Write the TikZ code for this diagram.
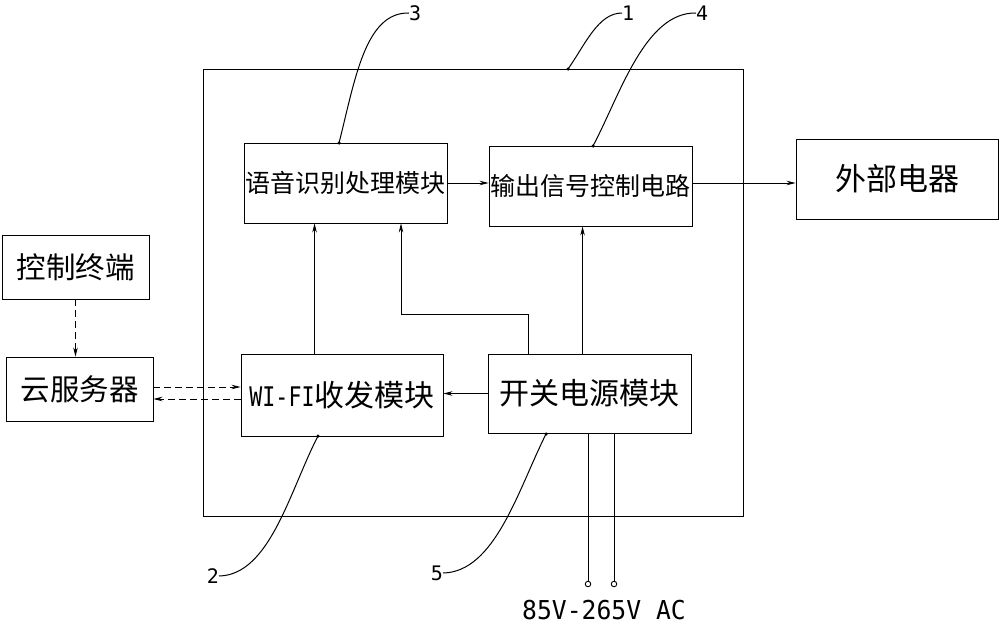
\documentclass[tikz,border=0pt]{standalone}
\usepackage{fontspec}
\usepackage{graphicx}
\usetikzlibrary{arrows.meta,calc}
\newfontfamily\cjk{Noto Sans CJK SC}
\newfontfamily\cad{DejaVu Sans Mono}
\tikzset{
  blk/.style={draw, line width=0.9pt, inner sep=0pt, font=\cjk},
  arr/.style={line width=0.9pt, -{Stealth[length=9pt,width=4.5pt]}},
  darr/.style={line width=0.9pt, dash pattern=on 7pt off 4pt, -{Stealth[length=9pt,width=4.5pt]}},
  ln/.style={line width=0.9pt},
  ldr/.style={line width=1pt},
  numlbl/.style={inner sep=0pt, font=\fontsize{20}{20}\cad},
  dotpt/.style={circle, fill, inner sep=0pt, minimum size=3.5pt},
  term/.style={circle, draw, line width=0.9pt, inner sep=0pt, minimum size=5.5pt}
}
\begin{document}
\begin{tikzpicture}[x=1pt,y=-1pt]
\useasboundingbox (0,0) rectangle (1000,626);
% outer box 1
\node[draw, line width=0.9pt, inner sep=0pt, minimum width=540pt, minimum height=447pt] (outer) at (473,292.5) {};
% blocks
\node[blk, minimum width=203pt, minimum height=80pt, font=\cjk\fontsize{25}{25}\selectfont] (v3) at (345.5,183) {语音识别处理模块};
\node[blk, minimum width=203pt, minimum height=80pt, font=\cjk\fontsize{25}{25}\selectfont] (v4) at (590.5,186) {输出信号控制电路};
\node[blk, minimum width=202pt, minimum height=80pt, font=\cjk\fontsize{31}{31}\selectfont] (ext) at (897,179) {外部电器};
\node[blk, minimum width=147pt, minimum height=64pt, font=\cjk\fontsize{29.5}{29.5}\selectfont] (ctrl) at (75.5,267) {控制终端};
\node[blk, minimum width=147pt, minimum height=64pt, font=\cjk\fontsize{29.5}{29.5}\selectfont] (cloud) at (79.5,389) {云服务器};
\node[blk, minimum width=202pt, minimum height=82pt] (wifi) at (342,395) {\scalebox{0.8}[1]{\fontsize{27}{27}\cad WI-FI}{\cjk\fontsize{30}{30}\selectfont 收发模块}};
\node[blk, minimum width=203pt, minimum height=79pt, font=\cjk\fontsize{30}{30}\selectfont] (pw) at (589.5,393.5) {开关电源模块};
% connectors
\draw[arr] (v3.east) -- (v3.east -| v4.west);
\draw[arr] (v4.east |- v3.east) -- (v3.east -| ext.west);
\draw[arr] ([xshift=74pt]wifi.north west) -- ([xshift=74pt]wifi.north west |- v3.south);
\coordinate (bend) at (401,314);
\draw[arr] ([xshift=41pt]pw.north west) |- (bend) -- (bend |- v3.south);
\draw[arr] ([xshift=95pt]pw.north west) -- ([xshift=95pt]pw.north west |- v4.south);
\draw[arr] (pw.west) -- (pw.west -| wifi.east);
\draw[darr] (ctrl.south) -- (ctrl.south |- cloud.north);
\draw[darr] ([yshift=2pt]cloud.east) -- ([yshift=2pt]cloud.east -| wifi.west);
\draw[darr] ([yshift=-10pt]cloud.east -| wifi.west) -- ([yshift=-10pt]cloud.east);
% power terminals
\node[term] (t1) at (588,584) {};
\node[term] (t2) at (614,584) {};
\draw[ln] (t1) -- (t1 |- pw.south);
\draw[ln] (t2) -- (t2 |- pw.south);
\node[inner sep=0pt] (acl) at (604,610) {\scalebox{0.95}[1]{\fontsize{26}{26}\cad 85V-265V AC}};
% leader labels
\node[dotpt] (d3) at (339,143) {};
\node[numlbl, anchor=west] (n3) at (409,13) {3};
\draw[ldr] (d3.center) .. controls (355,80) and (365,12) .. (n3.west);
\node[dotpt] (d1) at (568,69) {};
\node[numlbl, anchor=west] (n1) at (622,13) {1};
\draw[ldr] (d1.center) .. controls (585,45) and (598,13) .. (n1.west);
\node[dotpt] (d4) at (593,146) {};
\node[numlbl, anchor=west] (n4) at (696,13) {4};
\draw[ldr] (d4.center) .. controls (620,95) and (645,12) .. (n4.west);
\node[dotpt] (d2) at (318,436) {};
\node[numlbl, anchor=east] (n2) at (219,576) {2};
\draw[ldr] (d2.center) .. controls (290,490) and (270,575) .. (n2.east);
\node[dotpt] (d5) at (546,434) {};
\node[numlbl, anchor=east] (n5) at (443,573) {5};
\draw[ldr] (d5.center) .. controls (518,490) and (495,572) .. (n5.east);
\end{tikzpicture}
\end{document}
